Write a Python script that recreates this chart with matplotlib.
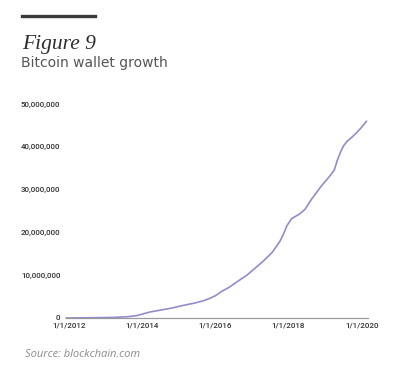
import matplotlib
matplotlib.use("Agg")
import matplotlib.pyplot as plt
from matplotlib.ticker import FuncFormatter

# Data (decimal years, wallets in millions)
years = [2011.92, 2012.5, 2013.0, 2013.26, 2013.6, 2013.85, 2014.0, 2014.21, 2014.5,
         2014.8, 2015.1, 2015.44, 2015.7, 2015.85, 2016.0, 2016.17, 2016.4, 2016.53,
         2016.86, 2017.08, 2017.31, 2017.55, 2017.77, 2017.88, 2017.95, 2018.08,
         2018.3, 2018.45, 2018.63, 2018.78, 2018.9, 2019.13, 2019.25, 2019.33,
         2019.42, 2019.5, 2019.6, 2019.75, 2019.86, 2020.0, 2020.13]
wallets_m = [0.0, 0.05, 0.1, 0.15, 0.3, 0.55, 0.9, 1.4, 1.85,
             2.3, 2.9, 3.5, 4.1, 4.6, 5.2, 6.2, 7.3, 8.1,
             10.0, 11.6, 13.3, 15.3, 18.0, 20.0, 21.5, 23.2,
             24.3, 25.4, 27.8, 29.5, 30.9, 33.2, 34.6, 36.8,
             38.8, 40.2, 41.3, 42.4, 43.3, 44.6, 46.0]
x_ticks = [2012, 2014, 2016, 2018, 2020]
x_tick_labels = ["1/1/2012", "1/1/2014", "1/1/2016", "1/1/2018", "1/1/2020"]
y_ticks = [0, 10_000_000, 20_000_000, 30_000_000, 40_000_000, 50_000_000]

W, H = 397, 369
fig = plt.figure(figsize=(W / 100, H / 100), dpi=100)
fig.patch.set_facecolor("white")

# axes placement in pixels
left, right, bottom, top = 66, 368, 318, 104
ax = fig.add_axes([left / W, (H - bottom) / H, (right - left) / W, (bottom - top) / H])

ax.plot(years, [v * 1_000_000 for v in wallets_m], color="#928cca", lw=1.2,
        solid_capstyle="round", solid_joinstyle="round", clip_on=False)

ax.set_xlim(2011.92, 2020.17)
ax.set_ylim(0, 50_000_000)
ax.set_xticks(x_ticks)
ax.set_xticklabels(x_tick_labels)
ax.set_yticks(y_ticks)
ax.yaxis.set_major_formatter(FuncFormatter(lambda v, p: f"{int(v):,}"))

for s in ["top", "right", "left"]:
    ax.spines[s].set_visible(False)
ax.spines["bottom"].set_color("#9a9a9a")
ax.spines["bottom"].set_linewidth(0.9)
ax.tick_params(axis="both", length=0, colors="#333333")
ax.tick_params(axis="y", pad=4)
ax.tick_params(axis="x", pad=3)
for lab in ax.get_xticklabels() + ax.get_yticklabels():
    lab.set_fontfamily("Roboto")
    lab.set_fontweight("medium")
    lab.set_fontsize(5.8)

# header bar
fig.add_artist(plt.Line2D([22 / W, 95 / W], [1 - 16 / H, 1 - 16 / H], color="#3a3a3a", lw=2.4))
fig.text(22 / W, 1 - 49 / H, "Figure 9", family="Liberation Serif", style="italic",
         fontsize=15.5, color="#2e2e2e", va="baseline", ha="left")
fig.text(21 / W, 1 - 67 / H, "Bitcoin wallet growth", family="DejaVu Sans",
         fontsize=10, color="#555555", va="baseline", ha="left")
fig.text(25 / W, 1 - 357 / H, "Source: blockchain.com", family="Open Sans", style="italic",
         fontsize=8, color="#8a8a8a", va="baseline", ha="left")

fig.savefig("out.png", dpi=100, facecolor="white")
